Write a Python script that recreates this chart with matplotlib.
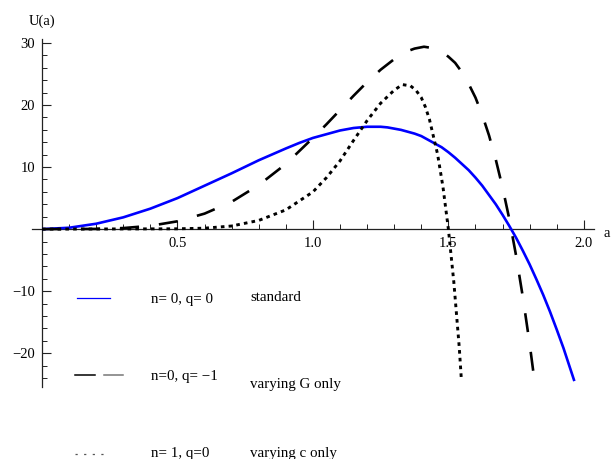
import matplotlib
matplotlib.use("Agg")
import matplotlib.pyplot as plt
from matplotlib.lines import Line2D
from matplotlib.ticker import FixedLocator, FixedFormatter

# ---- data ----
a_std = [0, 0.1, 0.2, 0.3, 0.4, 0.5, 0.6, 0.7, 0.8, 0.9, 0.95, 1.0, 1.05, 1.1, 1.15, 1.175,
         1.2, 1.225, 1.25, 1.275, 1.3, 1.325, 1.35, 1.375, 1.4, 1.425, 1.45, 1.475, 1.5,
         1.525, 1.55, 1.575, 1.6, 1.625, 1.65, 1.675, 1.7, 1.725, 1.75, 1.775, 1.8, 1.825,
         1.85, 1.875, 1.9, 1.925, 1.965]
u_std = [0, 0.22, 0.87, 1.9, 3.3, 5.0, 7.0, 9.0, 11.1, 13.0, 13.9, 14.7, 15.3, 15.9, 16.3, 16.4,
         16.5, 16.5, 16.5, 16.4, 16.2, 16.0, 15.7, 15.4, 15.0, 14.4, 13.8, 13.2, 12.4,
         11.5, 10.5, 9.5, 8.3, 7.0, 5.5, 4.0, 2.3, 0.5, -1.4, -3.5, -5.7, -8.1,
         -10.6, -13.3, -16.2, -19.2, -24.5]

a_G = [0, 0.2, 0.3, 0.4, 0.5, 0.6, 0.7, 0.8, 0.9, 1.0, 1.05, 1.1, 1.15, 1.2, 1.25, 1.3,
       1.35, 1.375, 1.41, 1.425, 1.45, 1.475, 1.5, 1.525, 1.55, 1.575, 1.6, 1.625, 1.65,
       1.675, 1.7, 1.725, 1.75, 1.775, 1.8, 1.818]
u_G = [0, 0.03, 0.17, 0.53, 1.26, 2.5, 4.4, 7.1, 10.5, 14.7, 16.9, 19.2, 21.5, 23.7, 25.7, 27.4,
       28.7, 29.1, 29.4, 29.3, 29.1, 28.6, 27.8, 26.8, 25.3, 23.4, 21.2, 18.4, 15.1,
       11.2, 6.7, 1.6, -4.3, -11.0, -18.5, -24.5]

a_c = [0, 0.5, 0.6, 0.7, 0.8, 0.9, 1.0, 1.05, 1.1, 1.15, 1.2, 1.25, 1.3, 1.33, 1.36,
       1.38, 1.4, 1.415, 1.43, 1.46, 1.48, 1.5, 1.52, 1.54, 1.548]
u_c = [0, 0.05, 0.15, 0.5, 1.4, 3.1, 6.0, 8.3, 11.0, 14.3, 17.5, 20.3, 22.4, 23.3, 23.1,
       22.4, 21.2, 19.7, 17.7, 12.1, 6.8, 0, -8.5, -19.0, -24.3]

x_major = [0.5, 1.0, 1.5, 2.0]
x_major_labels = ["0.5", "1.0", "1.5", "2.0"]
y_major = [-20, -10, 10, 20, 30]
y_major_labels = ["\u221220", "\u221210", "10", "20", "30"]

legend_names = ["n= 0, q= 0", "n=0, q= \u22121", "n= 1, q=0"]
legend_notes = ["standard", "varying G only", "varying c only"]

plt.rcParams['font.family'] = ['Liberation Serif', 'DejaVu Serif']
plt.rcParams['lines.scale_dashes'] = False

W, H = 613, 459
fig = plt.figure(figsize=(W / 100, H / 100), dpi=100)
left_px, right_px, top_px, bot_px = 32, 594, 39.3, 387.3
ax = fig.add_axes([left_px / W, 1 - bot_px / H, (right_px - left_px) / W, (bot_px - top_px) / H])
ax.set_xlim(-0.037, 2.0375)
ax.set_ylim(-25.5, 30.6)
ax.patch.set_alpha(0)

for s in ['top', 'right']:
    ax.spines[s].set_visible(False)
ax.spines['left'].set_position(('data', 0))
ax.spines['bottom'].set_position(('data', 0))
for s in ['left', 'bottom']:
    ax.spines[s].set_linewidth(0.9)
    ax.spines[s].set_color('#222222')

ax.xaxis.set_major_locator(FixedLocator(x_major))
ax.xaxis.set_major_formatter(FixedFormatter(x_major_labels))
ax.xaxis.set_minor_locator(FixedLocator([0.1, 0.2, 0.3, 0.4, 0.6, 0.7, 0.8, 0.9, 1.1, 1.2, 1.3, 1.4,
                                         1.6, 1.7, 1.8, 1.9]))
ax.yaxis.set_major_locator(FixedLocator(y_major))
ax.yaxis.set_major_formatter(FixedFormatter(y_major_labels))
ax.yaxis.set_minor_locator(FixedLocator([-24, -22, -18, -16, -14, -12, -8, -6, -4, -2,
                                         2, 4, 6, 8, 12, 14, 16, 18, 22, 24, 26, 28]))
ax.tick_params(which='major', direction='in', length=6.5, width=0.8, color='#222222',
               labelsize=10.5, pad=5)
ax.tick_params(which='minor', direction='in', length=3.5, width=0.7, color='#222222')
ax.tick_params(axis='x', which='major', pad=6)

ax.plot(a_std, u_std, color=(0, 0, 1), lw=1.9, zorder=3, solid_capstyle='butt')
ax.plot(a_G, u_G, color='black', lw=1.9, dashes=(13.7, 14.4), zorder=3)
ax.plot(a_c, u_c, color='black', lw=2.1, dashes=(2.6, 3.0), zorder=3)

# axis labels
fig.text(29 / W, 1 - 21.5 / H, "U(a)", fontsize=10.5, va='center', ha='left')
fig.text(604 / W, 1 - 233 / H, "a", fontsize=10.5, va='center', ha='left')

# legend (drawn as in the reference)
def fx(x):
    return x / W

def fy(y):
    return 1 - y / H

fig.add_artist(Line2D([fx(76.7), fx(110)], [fy(298.3), fy(298.3)], color=(0, 0, 1), lw=0.9))
fig.add_artist(Line2D([fx(75), fx(95)], [fy(375), fy(375)], color='black', lw=1.1))
fig.add_artist(Line2D([fx(104.3), fx(123.3)], [fy(375), fy(375)], color='#777777', lw=1.1))
fig.add_artist(Line2D([fx(75), fx(105)], [fy(454.3), fy(454.3)], color='#555555', lw=0.9,
                      dashes=(1.6, 4.6)))

name_base = [302.7, 380, 456.5]
note_base = [300.7, 388.3, 457.5]
for i in range(3):
    fig.text(fx(150.7), fy(name_base[i]), legend_names[i], fontsize=10.8, va='baseline', ha='left')
    fig.text(fx(250.5), fy(note_base[i]), legend_notes[i], fontsize=10.8, va='baseline', ha='left')

fig.savefig("out.png", dpi=100)
